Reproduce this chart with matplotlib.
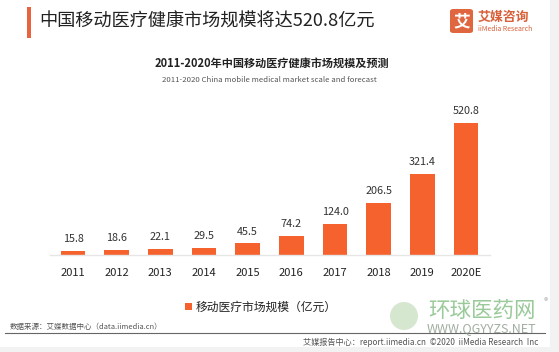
import matplotlib
matplotlib.use("Agg")
import matplotlib.pyplot as plt
from matplotlib.patches import Rectangle, FancyBboxPatch, Ellipse

plt.rcParams['font.family'] = ['Noto Sans CJK SC', 'DejaVu Sans']

years = ['2011', '2012', '2013', '2014', '2015', '2016', '2017', '2018', '2019', '2020E']
values = [15.8, 18.6, 22.1, 29.5, 45.5, 74.2, 124.0, 206.5, 321.4, 520.8]
value_labels = ['15.8', '18.6', '22.1', '29.5', '45.5', '74.2', '124.0', '206.5', '321.4', '520.8']

W, H = 559, 352
fig = plt.figure(figsize=(W / 100, H / 100), dpi=100)
fig.patch.set_facecolor('white')

def fx(x):
    return x / W

def fy(y):
    return 1 - y / H

# light gray border strips
fig.patches.append(Rectangle((fx(550), 0), 1 - fx(550), 1, transform=fig.transFigure,
                             facecolor='#f2f2f2', edgecolor='none', zorder=0))
fig.patches.append(Rectangle((0, 0), 1, fy(347), transform=fig.transFigure,
                             facecolor='#f2f2f2', edgecolor='none', zorder=0))

orange = '#F5622E'

# header accent bar
fig.patches.append(Rectangle((fx(27), fy(38)), fx(4), fy(7) - fy(38), transform=fig.transFigure,
                             facecolor='#E8633F', edgecolor='none'))
fig.text(fx(39), fy(22), '中国移动医疗健康市场规模将达520.8亿元', fontsize=13.1,
         color='#222222', va='center', ha='left')

# logo
fig.patches.append(FancyBboxPatch((fx(450), fy(33)), fx(23), fy(9) - fy(33),
                                  boxstyle='round,pad=0,rounding_size=0.006',
                                  transform=fig.transFigure, facecolor='#E0663F', edgecolor='none'))
fig.text(fx(461.5), fy(21.5), '艾', fontsize=12, color='white', fontweight='bold',
         ha='center', va='center')
fig.text(fx(478), fy(17), '艾媒咨询', fontsize=9.3, color='#D9603A', fontweight='bold',
         ha='left', va='center')
fig.text(fx(478), fy(29), 'iiMedia Research', fontsize=5, color='#D9603A',
         ha='left', va='center')

# chart titles
fig.text(fx(272), fy(63), '2011-2020年中国移动医疗健康市场规模及预测', fontsize=8,
         fontweight='bold', color='#222222', ha='center', va='center')
fig.text(fx(269), fy(80), '2011-2020 China mobile medical market scale and forecast',
         fontsize=5.6, color='#555555', ha='center', va='center')

# axes
ax = fig.add_axes([fx(50), fy(255), fx(490) - fx(50), fy(113) - fy(255)])
ax.set_facecolor('none')
x = list(range(len(years)))
ax.bar(x, values, width=0.57, color=orange, zorder=2)
ax.set_xlim(-0.527, 9.55)
ax.set_ylim(0, 560)
for xi, v, lab in zip(x, values, value_labels):
    ax.annotate(lab, (xi, v), xytext=(0, 5), textcoords='offset points',
                ha='center', va='bottom', fontsize=7.8, color='#333333')
ax.set_xticks(x)
ax.set_xticklabels(years, fontsize=8, color='#222222')
ax.tick_params(axis='x', length=0, pad=9)
ax.set_yticks([])
for s in ['top', 'right', 'left']:
    ax.spines[s].set_visible(False)
ax.spines['bottom'].set_color('#e6e6e6')
ax.spines['bottom'].set_linewidth(1.0)

# legend
fig.patches.append(Rectangle((fx(185), fy(310)), fx(7), fy(303) - fy(310), transform=fig.transFigure,
                             facecolor=orange, edgecolor='none'))
fig.text(fx(196), fy(307), '移动医疗市场规模（亿元）', fontsize=8.5, color='#222222',
         ha='left', va='center')

# watermark
fig.patches.append(Ellipse((fx(404), fy(316)), fx(28), fy(302) - fy(330), transform=fig.transFigure,
                           facecolor='#cfe3c8', edgecolor='none', alpha=0.85, zorder=4))
fig.text(fx(428), fy(311), '环球医药网', fontsize=15.5, color='#8FC48F', ha='left',
         va='center', alpha=0.9, zorder=5)
fig.text(fx(548), fy(302), '®', fontsize=6.5, color='#bbbbbb', ha='right', va='center')
fig.text(fx(427), fy(329), 'WWW.QGYYZS.NET', fontsize=9, color='#8a9a8a', ha='left',
         va='center', alpha=0.8, zorder=5)

# footer
fig.text(fx(10), fy(327), '数据来源：艾媒数据中心（data.iimedia.cn）', fontsize=5.4,
         color='#555555', ha='left', va='center')
fig.lines.append(plt.Line2D([fx(5), fx(545)], [fy(333), fy(333)], transform=fig.transFigure,
                            color='#666666', linewidth=0.8))
fig.text(fx(538), fy(342), '艾媒报告中心：report.iimedia.cn  ©2020  iiMedia Research  Inc',
         fontsize=5.9, color='#555555', ha='right', va='center')

fig.savefig('out.png', dpi=100, facecolor='white')
